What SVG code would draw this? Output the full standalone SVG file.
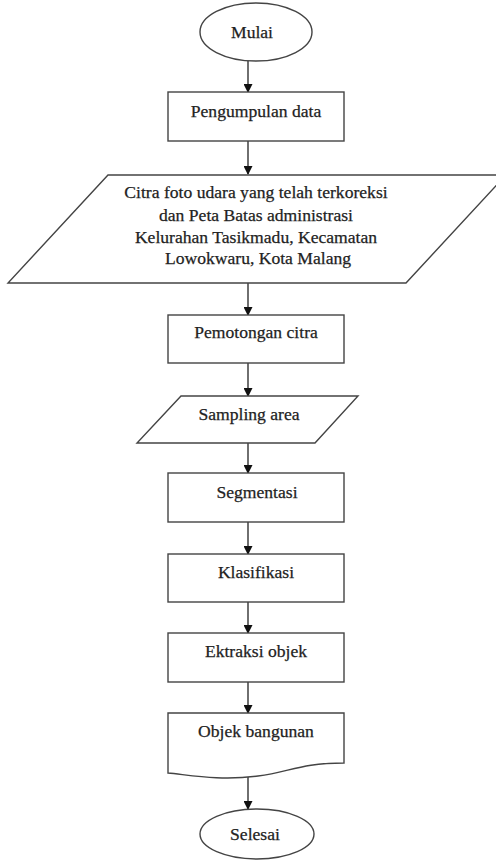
<svg xmlns="http://www.w3.org/2000/svg" width="496" height="861" viewBox="0 0 496 861">
<style>
.s{fill:#fff;stroke:#444;stroke-width:1.4}
.t{font-family:"Liberation Serif","Times New Roman",serif;font-size:17.6px;fill:#222;stroke:#222;stroke-width:0.25;text-anchor:middle}
.c{stroke:#333;stroke-width:1.4;fill:none}
</style>
<defs>
<marker id="ah" markerWidth="9" markerHeight="9" refX="8" refY="4.5" orient="auto" markerUnits="userSpaceOnUse">
<path d="M0,0 L9,4.5 L0,9 Z" fill="#111"/>
</marker>
</defs>
<g id="connectors">
<line class="c" x1="248" y1="61" x2="248" y2="92" marker-end="url(#ah)"/>
<line class="c" x1="248" y1="141" x2="248" y2="174" marker-end="url(#ah)"/>
<line class="c" x1="248" y1="283" x2="248" y2="315" marker-end="url(#ah)"/>
<line class="c" x1="248" y1="363" x2="248" y2="396" marker-end="url(#ah)"/>
<line class="c" x1="248" y1="443" x2="248" y2="473" marker-end="url(#ah)"/>
<line class="c" x1="248" y1="522" x2="248" y2="554" marker-end="url(#ah)"/>
<line class="c" x1="248" y1="602" x2="248" y2="633" marker-end="url(#ah)"/>
<line class="c" x1="248" y1="682" x2="248" y2="713" marker-end="url(#ah)"/>
<line class="c" x1="248" y1="777" x2="248" y2="809" marker-end="url(#ah)"/>
</g>
<g id="mulai">
<ellipse class="s" cx="256" cy="32" rx="56" ry="29"/>
<text class="t" x="252" y="38">Mulai</text>
</g>
<g id="pengumpulan">
<rect class="s" x="168" y="92" width="176" height="49"/>
<text class="t" x="256" y="117">Pengumpulan data</text>
</g>
<g id="citra">
<polygon class="s" points="108,175 506,175 406,283 8,283"/>
<text class="t" x="256" y="198">Citra foto udara yang telah terkoreksi</text>
<text class="t" x="256" y="221">dan Peta Batas administrasi</text>
<text class="t" x="256" y="243">Kelurahan Tasikmadu, Kecamatan</text>
<text class="t" x="258" y="264">Lowokwaru, Kota Malang</text>
</g>
<g id="pemotongan">
<rect class="s" x="168" y="315" width="176" height="48"/>
<text class="t" x="256" y="338">Pemotongan citra</text>
</g>
<g id="sampling">
<polygon class="s" points="181,396 358,396 315,443 137,443"/>
<text class="t" x="249" y="420">Sampling area</text>
</g>
<g id="segmentasi">
<rect class="s" x="168" y="473" width="176" height="49"/>
<text class="t" x="257" y="498">Segmentasi</text>
</g>
<g id="klasifikasi">
<rect class="s" x="168" y="554" width="176" height="48"/>
<text class="t" x="256" y="578">Klasifikasi</text>
</g>
<g id="ektraksi">
<rect class="s" x="168" y="633" width="176" height="49"/>
<text class="t" x="256" y="657">Ektraksi objek</text>
</g>
<g id="objek">
<path class="s" d="M168,713 H344 V763 C300,763 290,772 258,776 C220,781 190,775 168,773 Z"/>
<text class="t" x="256" y="737">Objek bangunan</text>
</g>
<g id="selesai">
<ellipse class="s" cx="257" cy="834" rx="57" ry="25"/>
<text class="t" x="255" y="840">Selesai</text>
</g>
</svg>
